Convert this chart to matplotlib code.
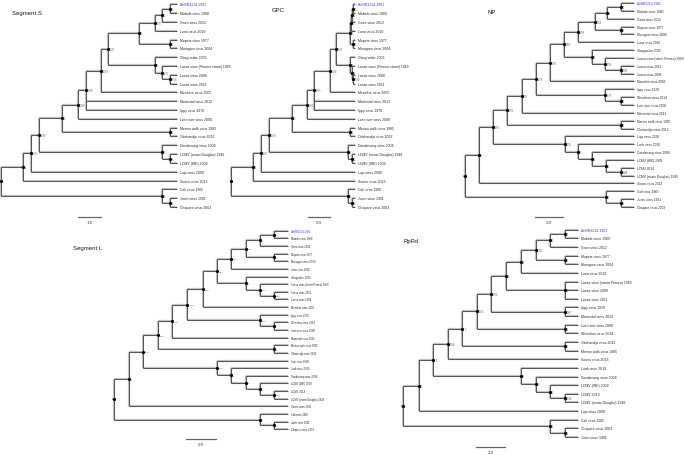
import re
import matplotlib
matplotlib.use('Agg')
import matplotlib.pyplot as plt

# trees: leaf names are quoted, internal nodes carry "support:depth from root"
# (all tips are drawn aligned at the tree's tip depth)
S_TREE = (
    "((((((((((((('AnRB3214 1981','Mobala virus 1980')1:7.35,'Gairo virus 2012')1:7.0,"
    "'Luna virus 2010')0.97:6.7,('Mopeia virus 1977','Morogoro virus 2004')1:7.35)1:6.0,"
    "('Gbagroube 2005',('Lassa virus (Pinneo strain) 1969',('Lassa virus 2008','Lassa virus 2011')0.93:7.35)0.97:7.0)1:6.7)0.97:4.65,"
    "'Menekre virus 2005')0.99:4.35,'Mariental virus 2012','Ippy virus 1970')0.98:3.7,"
    "'Loei river virus 2008')0.98:3.35,('Merino walk virus 1985','Okahandja virus 2012')1:7.35)1:2.65,"
    "('Dandenong virus 2008',('LCMV (strain Douglas) 1949','LCMV (WE) 2009')1:7.35)1:7.0)0.99:1.65,"
    "'Lujo virus 2008')0.97:1.3,'Souris virus 2013')1:0.95,"
    "('Cali virus 1965',('Junin virus 1991','Chapare virus 2003')1:7.35)1:7.0):0"
)
GPC_TREE = (
    "((((((((((((('AnRB3214 1981','Mobala virus 1980')1:27.7,'Gairo virus 2012')1:27.5,"
    "'Luna virus 2010')1:27.3,('Mopeia virus 1977','Morogoro virus 2004')1:27.7)1:27.0,"
    "('Gbagroube 2005',('Lassa virus (Pinneo strain) 1969',('Lassa virus 2008','Lassa virus 2011')0.99:27.7)1:27.5)1:27.0)0.97:23.9,"
    "'Menekre virus 2005')0.94:22.5,'Mariental virus 2012','Ippy virus 1970')0.65:18.9,"
    "'Loei river virus 2008')0.92:17.3,('Merino walk virus 1985','Okahandja virus 2012')1:27.0)1:13.9,"
    "('Dandenong virus 2008',('LCMV (strain Douglas) 1949','LCMV (WE) 2009')1:27.5)1:26.6)0.99:8.6,"
    "'Lujo virus 2008')0.97:6.8,'Souris virus 2013')1:5.0,"
    "('Cali virus 1965',('Junin virus 1991','Chapare virus 2003')1:27.5)1:26.6):0"
)
NP_TREE = (
    "(((((((((((('AnRB3214 1981','Mobala virus 1980')1:11.12,'Gairo virus 2012')1:10.14,"
    "('Mopeia virus 1977','Morogoro virus 2004')1:11.12)0.54:9.29,'Luna virus 2010')0.98:8.07,"
    "('Gbagroube 2005',('Lassa virus (strain Pinneo) 1969',('Lassa virus 2011','Lassa virus 2008')0.96:11.14)0.54:10.0)1:9.07)0.82:7.07,"
    "'Menekre virus 2005')0.93:6.07,"
    "('Ippy virus 1970',('Wenzhou virus 2014','Loei river virus 2008')1:11.14)0.79:10.0)0.78:5.07,"
    "'Mariental virus 2012')0.9:4.07,"
    "('Merino walk virus 1985','Okahandja virus 2012')1:11.14)0.99:3.0,"
    "('Lujo virus 2008',('Lunk virus 2010',('Dandenong virus 2008',('LCMV (WE) 2009',"
    "('LCMV 2014','LCMV (strain Douglas) 1949')0.88:11.14)1:10.07)1:9.07)1:8.07)0.55:7.14)0.96:2.0,"
    "'Souris virus 2013')1:1.0,"
    "('Cali virus 1965',('Junin virus 1991','Chapare virus 2003')1:11.14)1:10.07):0"
)
L_TREE = (
    "(((((((((((('AnRB3214 1981','Mobala virus 1980')1:10.65,'Gairo virus 2012')1:9.71,"
    "('Mopeia virus 1977','Morogoro virus 2004')1:10.65)0.92:8.76,'Luna virus 2010')0.98:7.76,"
    "('Gbagroube 2005',('Lassa virus (strain Pinneo) 1969',('Lassa virus 2011','Lassa virus 2008')0.96:10.65)0.54:9.71)1:8.76)0.92:6.83,"
    "'Menekre virus 2005')0.93:5.89,"
    "('Ippy virus 1970',('Wenzhou virus 2014','Loei river virus 2008')1:10.65)0.79:9.71)0.78:4.87,"
    "'Mariental virus 2012')0.9:3.87,"
    "('Merino walk virus 1985','Okahandja virus 2012')1:10.65)0.99:2.93,"
    "('Lujo virus 2008',('Lunk virus 2010',('Dandenong virus 2008',('LCMV (WE) 2009',"
    "('LCMV 2014','LCMV (strain Douglas) 1949')0.88:10.65)1:9.71)1:8.76)1:7.78)0.55:6.83)0.96:1.93,"
    "'Souris virus 2013')1:0.98,"
    "('Cali virus 1965',('Junin virus 1991','Chapare virus 2003')1:10.65)1:9.71):0"
)
RPRD_TREE = (
    "(((((((((((('AnRB3214 1981','Mobala virus 1980')1:11.15,'Gairo virus 2012')1:10.12,"
    "('Mopeia virus 1977','Morogoro virus 2004')1:11.15)0.59:9.13,'Luna virus 2010')1:8.12,"
    "('Lassa virus (strain Pinneo) 1969','Lassa virus 2008','Lassa virus 2011')1:11.15)1:7.08,"
    "('Ippy virus 1970','Mariental virus 2012')0.87:11.15)0.92:6.05,"
    "('Loei river virus 2008','Wenzhou virus 2014')1:11.15)0.93:5.06,"
    "('Okahandja virus 2012','Merino walk virus 1985')1:11.15)1:4.07,"
    "'Souris virus 2013')0.94:3.06,"
    "('Lunk virus 2010',('Dandenong virus 2008',('LCMV (WE) 2009',"
    "('LCMV 2014','LCMV (strain Douglas) 1949')0.94:11.15)1:10.12)1:9.13)1:8.12)1:2.07,"
    "'Lujo virus 2008')1:1.08,"
    "('Cali virus 1965',('Chapare virus 2003','Junin virus 1991')1:11.15)1:10.12):0"
)

titles = ['Segment S', 'GPC', 'NP', 'Segment L', 'RpRd']
trees = [S_TREE, GPC_TREE, NP_TREE, L_TREE, RPRD_TREE]
tip_depths = [7.65, 28.2, 12.07, 11.58, 12.05]
scale_values = [1.0, 5.0, 2.0, 2.0, 2.0]
highlight = 'AnRB3214 1981'

# layout in pixels: root x, tip x, first leaf y, last leaf y
panel_px = [(1, 177, 5.3, 208), (231, 355, 5.3, 208), (465, 634, 4, 208),
            (114.3, 288, 231.7, 430.3), (403.3, 578, 230.7, 438)]
title_px = [(12, 14), (272, 10), (487, 13), (73, 249), (403, 242)]
bar_px = [(78, 218), (308, 218), (535, 218), (186, 440), (476, 448)]
leaf_fs = [2.5, 2.5, 2.35, 1.9, 2.5]

LEAF_FONT = ['Liberation Sans', 'DejaVu Sans']
DARK, LIGHT = '#555555', '#c0c0c0'

W, H = 685, 456
fig = plt.figure(figsize=(W / 100, H / 100), dpi=100)


def parse_tree(text):
    toks = re.findall(r"'[^']*'|[(),]|[^(),']+", text)
    pos = 0

    def node():
        nonlocal pos
        if toks[pos] == '(':
            pos += 1
            kids = [node()]
            while toks[pos] == ',':
                pos += 1
                kids.append(node())
            pos += 1
            sup, depth = toks[pos].split(':')
            pos += 1
            return {'kids': kids, 'sup': sup, 'x': float(depth)}
        name = toks[pos].strip("'")
        pos += 1
        return {'name': name}
    return node()


def layout(root, tip):
    leaves = []

    def walk(n):
        if 'kids' not in n:
            n['x'], n['y'] = tip, len(leaves)
            leaves.append(n)
            return
        for k in n['kids']:
            walk(k)
        n['y'] = (n['kids'][0]['y'] + n['kids'][-1]['y']) / 2
    walk(root)
    return leaves


def seg(ax, xs, ys):
    ax.plot(xs, ys, color=LIGHT, lw=1.6, solid_capstyle='butt', clip_on=False, zorder=1)
    ax.plot(xs, ys, color=DARK, lw=0.7, solid_capstyle='butt', clip_on=False, zorder=2)


def draw(ax, n, fs):
    kids = n['kids']
    for k in kids:
        seg(ax, [n['x'], k['x']], [k['y'], k['y']])
        if 'kids' in k:
            draw(ax, k, fs)
    seg(ax, [n['x'], n['x']], [kids[0]['y'], kids[-1]['y']])
    ax.plot(n['x'], n['y'], 'o', ms=1.3, color='black', clip_on=False, zorder=3)
    if n['sup']:
        ax.annotate(n['sup'], (n['x'], n['y']), xytext=(1.5, 0), textcoords='offset points',
                    fontsize=max(fs * 0.8, 1.7), color='#666666', va='center', ha='left',
                    family=LEAF_FONT, annotation_clip=False)


for i in range(len(trees)):
    rx, tx, ty0, ty1 = panel_px[i]
    tip = tip_depths[i]
    root = parse_tree(trees[i])
    leaves = layout(root, tip)
    nl = len(leaves)

    ax = fig.add_axes([rx / W, 1 - ty1 / H, (tx - rx) / W, (ty1 - ty0) / H])
    ax.set_xlim(0, tip)
    ax.set_ylim(nl - 1, 0)
    ax.axis('off')

    # small stub at the root
    seg(ax, [-tip * 0.012, 0], [root['y'], root['y']])
    draw(ax, root, leaf_fs[i])

    for lf in leaves:
        ax.annotate(lf['name'], (tip, lf['y']), xytext=(2.5, 0), textcoords='offset points',
                    fontsize=leaf_fs[i], va='center', ha='left', family=LEAF_FONT,
                    annotation_clip=False,
                    color='#3a3aff' if lf['name'] == highlight else '#2b2b2b')

    # scale bar
    bx = (bar_px[i][0] - rx) / (tx - rx) * tip
    by = (bar_px[i][1] - ty0) / (ty1 - ty0) * (nl - 1)
    ax.plot([bx, bx + scale_values[i]], [by, by], color='#666666', lw=0.9, clip_on=False)
    ax.annotate(f'{scale_values[i]:.1f}', (bx + scale_values[i] / 2, by), xytext=(0, -2.5),
                textcoords='offset points', ha='center', va='top', fontsize=3.2,
                color='#333333', family=LEAF_FONT, annotation_clip=False)

    fig.text(title_px[i][0] / W, 1 - title_px[i][1] / H, titles[i], fontsize=4.3,
             family=['Liberation Sans', 'DejaVu Sans'], va='center', ha='left', color='#1a1a1a')

fig.savefig('out.png', dpi=100)
